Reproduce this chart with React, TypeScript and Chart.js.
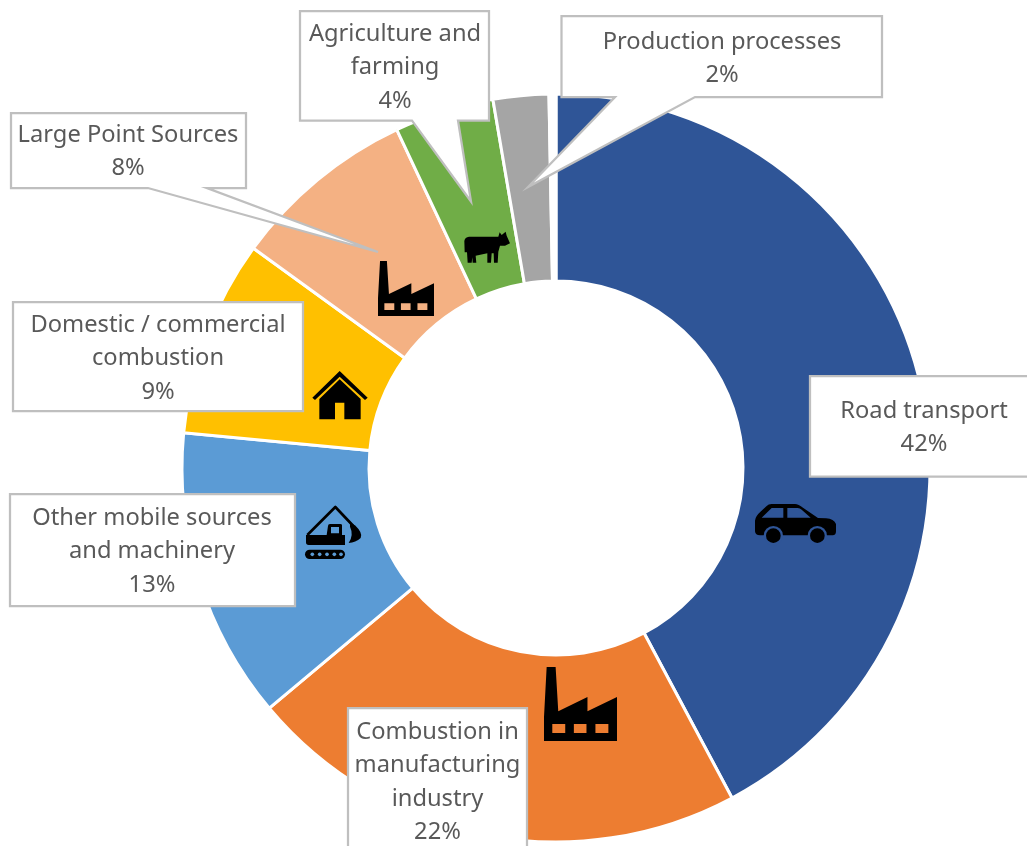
import React, { useEffect, useRef } from "react";
import { Chart, registerables } from "chart.js";

Chart.register(...registerables);

const categories = [
  "Road transport",
  "Combustion in manufacturing industry",
  "Other mobile sources and machinery",
  "Domestic / commercial combustion",
  "Large Point Sources",
  "Agriculture and farming",
  "Production processes",
  "",
];
const shares = [42.2, 21.7, 12.6, 8.5, 8.0, 4.3, 2.4, 0.3];
const sliceColors = ["#2F5597", "#ED7D31", "#5B9BD5", "#FFC000", "#F4B183", "#70AD47", "#A5A5A5", "#FFFFFF"];

const roadLines = ["Road transport", "42%"];
const combustionLines = ["Combustion in", "manufacturing", "industry", "22%"];
const mobileLines = ["Other mobile sources", "and machinery", "13%"];
const domesticLines = ["Domestic / commercial", "combustion", "9%"];
const pointLines = ["Large Point Sources", "8%"];
const farmingLines = ["Agriculture and", "farming", "4%"];
const productionLines = ["Production processes", "2%"];

type Callout = {
  lines: string[];
  box: [number, number, number, number];
  cx: number;
  firstY: number;
  wedge?: [number, number, number, number];
};

const callouts: Callout[] = [
  { lines: roadLines, box: [810, 376, 1038, 476.5], cx: 924, firstY: 411 },
  { lines: combustionLines, box: [348, 708, 527, 870], cx: 437.5, firstY: 732 },
  { lines: mobileLines, box: [10, 494, 295, 606], cx: 152, firstY: 518 },
  { lines: domesticLines, box: [13, 302, 303, 411], cx: 158, firstY: 325 },
  { lines: pointLines, box: [11, 113, 246, 188], cx: 128, firstY: 135, wedge: [148, 378, 252, 207] },
  { lines: farmingLines, box: [300, 11, 489, 120.5], cx: 395, firstY: 34, wedge: [412, 471, 201.5, 458] },
  { lines: productionLines, box: [561.5, 16, 882, 97], cx: 722, firstY: 42, wedge: [615, 528, 187, 695] },
];

const FACTORY =
  "M8 0 L35 0 L43 133 L131 90 L131 133 L220 90 L220 222 L0 222 L0 150 Z " +
  "M25 171 L25 198 L64 198 L64 171 Z M90 171 L90 198 L128 198 L128 171 Z M155 171 L155 198 L194 198 L194 171 Z";
const COW =
  "M28 48 Q30 36 42 35 L130 35 L134 22 L140 30 L152 20 L155 32 L165 55 L150 62 L135 62 L130 80 L128 113 L117 113 L116 85 L110 85 L108 113 L97 113 L97 85 L62 92 L64 113 L53 113 L52 97 L50 113 L38 113 L36 82 L29 82 Z";
const HOUSE =
  "M1019 813 L1103 893 L1095 900 L1019 830 L945 900 L937 893 Z " +
  "M1019 838 L1082 897 L1082 958 L1033 958 L1033 908 L1005 908 L1005 958 L958 958 L958 897 Z";
const DIGGER_BODY =
  "M18 105 L18 127 Q18 135 26 135 L135 135 L135 105 L126 105 L126 76 Q126 72 121 72 L90 72 Q84 72 84 78 L80 105 Z " +
  "M93 81 L93 100 L117 100 L117 81 Z " +
  "M150 70 L165 76 Q190 100 182 114 Q167 128 146 129 Q162 105 150 80 Z";
const CAR =
  "M15 68 Q16 55 33 40 L50 24 Q55 18 65 18 L135 18 Q145 18 160 30 L204 60 L228 61 Q252 63 258 78 L258 100 Q258 112 248 112 L30 112 Q16 112 15 100 Z " +
  "M35 59 L65 30 L100 30 L100 59 Z M112 30 L143 30 Q150 30 155 35 L182 59 L112 59 Z";

const iconPlugin = {
  id: "icons",
  afterDatasetsDraw(chart: Chart) {
    const ctx = chart.ctx;
    const place = (x: number, y: number, sx: number, sy: number, draw: () => void) => {
      ctx.save();
      ctx.translate(x, y);
      ctx.scale(sx, sy);
      ctx.fillStyle = "#000000";
      draw();
      ctx.restore();
    };
    const fill = (d: string) => ctx.fill(new Path2D(d), "evenodd");
    place(544, 667, 73 / 220, 74 / 222, () => fill(FACTORY));
    place(378, 261, 56 / 220, 55 / 222, () => fill(FACTORY));
    place(455, 225, 1 / 3, 1 / 3, () => fill(COW));
    place(0, 100, 1 / 3, 1 / 3, () => fill(HOUSE));
    place(300, 500, 1 / 3, 1 / 3, () => {
      fill(DIGGER_BODY);
      ctx.strokeStyle = "#000000";
      ctx.lineWidth = 8;
      ctx.lineJoin = "round";
      ctx.beginPath();
      ctx.moveTo(22, 105);
      ctx.lineTo(106, 21);
      ctx.lineTo(160, 78);
      ctx.stroke();
      ctx.beginPath();
      ctx.roundRect(15, 149, 120, 28, 14);
      ctx.fill();
      ctx.fillStyle = sliceColors[2];
      [37, 59, 81, 103, 123].forEach((dx) => {
        ctx.beginPath();
        ctx.arc(dx, 163, 5.5, 0, Math.PI * 2);
        ctx.fill();
      });
    });
    place(750, 498, 1 / 3, 1 / 3, () => {
      fill(CAR);
      [70, 202].forEach((wx) => {
        ctx.fillStyle = sliceColors[0];
        ctx.beginPath();
        ctx.arc(wx, 113, 29, 0, Math.PI * 2);
        ctx.fill();
        ctx.fillStyle = "#000000";
        ctx.beginPath();
        ctx.arc(wx, 113, 22, 0, Math.PI * 2);
        ctx.fill();
      });
    });
  },
};

const calloutPlugin = {
  id: "callouts",
  afterDatasetsDraw(chart: Chart) {
    const ctx = chart.ctx;
    ctx.save();
    callouts.forEach((c) => {
      const [l, t, r, b] = c.box;
      ctx.beginPath();
      ctx.moveTo(l, t);
      ctx.lineTo(r, t);
      ctx.lineTo(r, b);
      if (c.wedge) {
        const [a, tipX, tipY, d] = c.wedge;
        ctx.lineTo(Math.max(a, d), b);
        ctx.lineTo(tipX, tipY);
        ctx.lineTo(Math.min(a, d), b);
      }
      ctx.lineTo(l, b);
      ctx.closePath();
      ctx.fillStyle = "#FFFFFF";
      ctx.fill();
      ctx.strokeStyle = "#BFBFBF";
      ctx.lineWidth = 2.25;
      ctx.lineJoin = "miter";
      ctx.stroke();
      ctx.fillStyle = "#595959";
      ctx.font = "23.7px 'Noto Sans'";
      ctx.textAlign = "center";
      ctx.textBaseline = "middle";
      c.lines.forEach((line, i) => {
        ctx.fillText(line, c.cx, c.firstY + i * 33.5);
      });
    });
    ctx.restore();
  },
};

export default function App() {
  const ref = useRef<HTMLCanvasElement>(null);
  useEffect(() => {
    const chart = new Chart(ref.current!, {
      type: "doughnut",
      data: {
        labels: categories,
        datasets: [
          {
            data: shares,
            backgroundColor: sliceColors,
            borderColor: "#FFFFFF",
            borderWidth: 3,
          },
        ],
      },
      options: {
        responsive: false,
        animation: false,
        cutout: "50%",
        layout: { padding: { left: 180.5, right: 95.5, top: 92.5, bottom: 2.5 } },
        plugins: { legend: { display: false }, tooltip: { enabled: false } },
      },
      plugins: [iconPlugin, calloutPlugin],
    });
    return () => chart.destroy();
  }, []);
  return (
    <canvas
      ref={ref}
      width={1027}
      height={846}
      style={{ position: "absolute", left: 0, top: 0, display: "block" }}
    />
  );
}
